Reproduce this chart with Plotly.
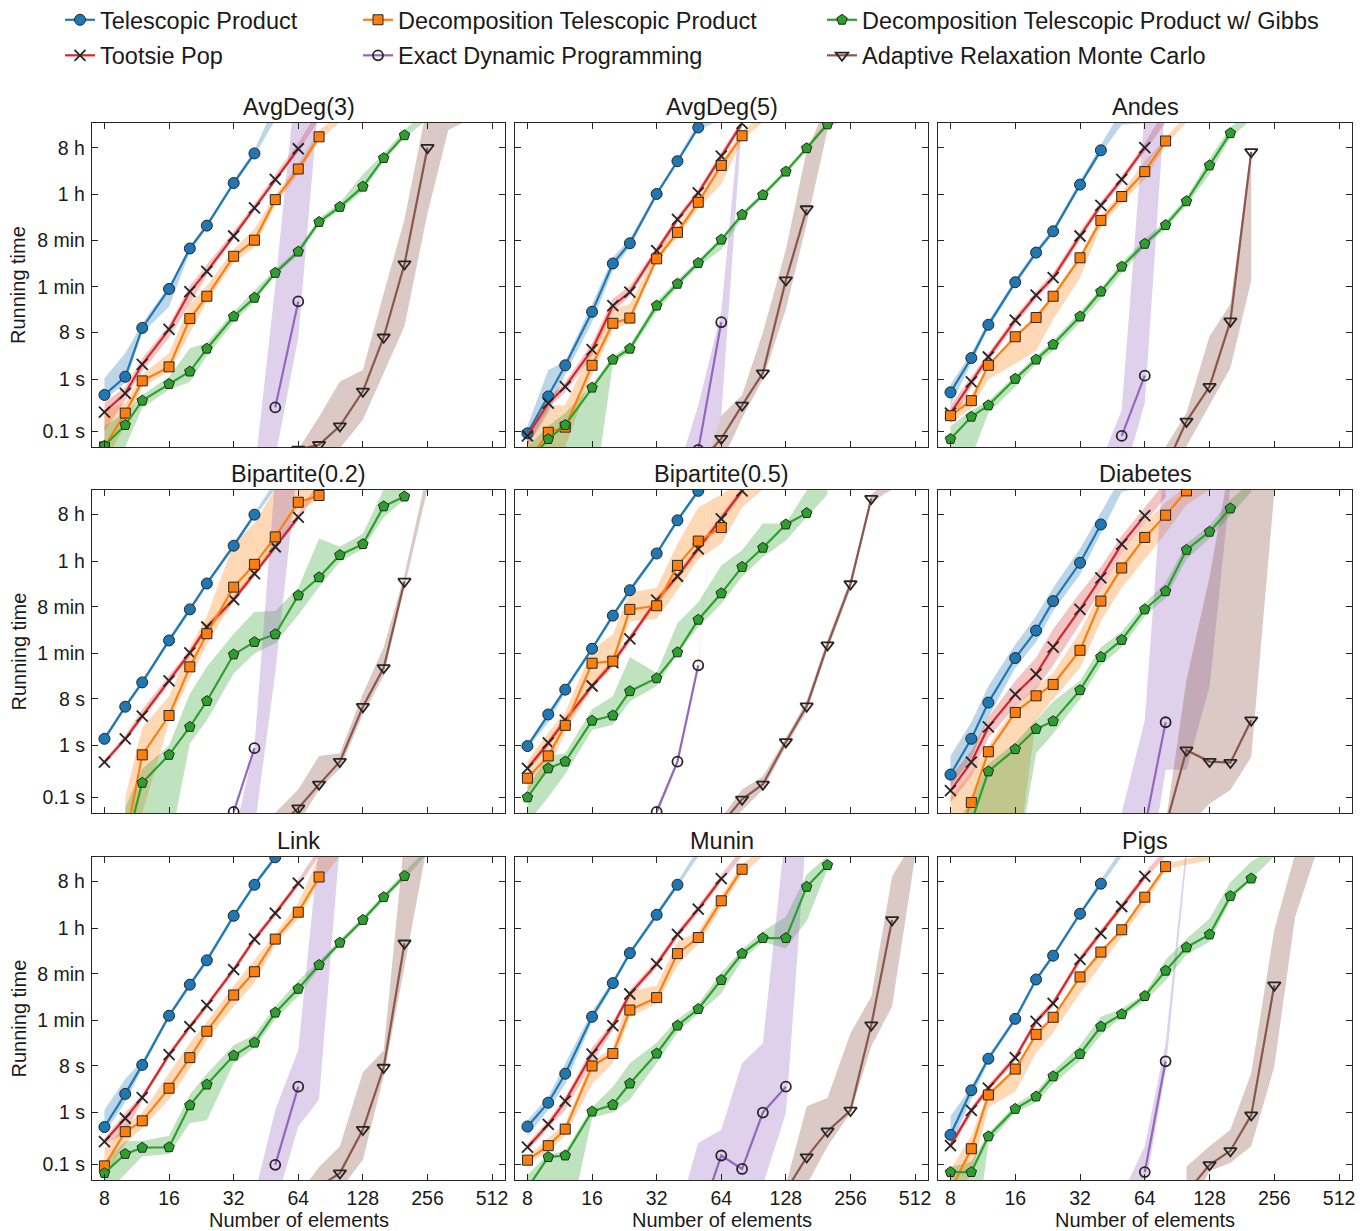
import plotly.graph_objects as go
import math

# ---------------- axis ticks ----------------
X_TICKS = [8, 16, 32, 64, 128, 256, 512]
Y_TICK_SECONDS = [0.1, 1, 8, 60, 480, 3600, 28800]
Y_TICK_LABELS = ["0.1 s", "1 s", "8 s", "1 min", "8 min", "1 h", "8 h"]

PANEL_TITLES = ["AvgDeg(3)", "AvgDeg(5)", "Andes", "Bipartite(0.2)", "Bipartite(0.5)",
                "Diabetes", "Link", "Munin", "Pigs"]

# ---------------- data: running time as log10(seconds), keyed by number of elements ----------------
# bands: {n: (low, high)} in log10(seconds)

# AvgDeg(3)
AVG3_TP = {8:-0.30,10:0.05,12:0.99,16:1.74,20:2.52,24:2.96,32:3.78,40:4.35}
AVG3_TP_B = {8:(-0.40,0.02),10:(-0.07,0.50),12:(0.89,1.08),16:(1.40,1.80),20:(2.45,2.57),24:(2.92,3.01),32:(3.73,3.83),40:(4.30,4.42),50:(5.0,5.3)}
AVG3_TT = {8:-0.63,10:-0.27,12:0.29,16:0.96,20:1.69,24:2.08,32:2.76,40:3.30,50:3.85,64:4.44}
AVG3_TT_B = {8:(-1.0,-0.45),10:(-0.40,-0.15),12:(0.15,0.40),16:(0.80,1.05),20:(1.45,1.80),24:(2.00,2.20),32:(2.70,2.85),40:(3.25,3.38),50:(3.80,3.95),64:(4.38,4.55),80:(5.0,5.2)}
AVG3_DTP = {8:-1.30,10:-0.65,12:-0.03,16:0.24,20:1.17,24:1.60,32:2.37,40:2.68,50:3.46,64:4.05,80:4.67}
AVG3_DTP_B = {8:(-1.6,-0.6),10:(-0.9,-0.45),12:(-0.15,0.10),16:(0.15,0.50),20:(0.90,1.45),24:(1.50,1.80),32:(2.25,2.50),40:(2.55,2.90),50:(3.35,3.55),64:(3.95,4.15),80:(4.60,4.80),100:(4.95,5.1)}
AVG3_G = {8:-1.28,10:-0.88,12:-0.41,16:-0.09,20:0.15,24:0.59,32:1.21,40:1.57,50:2.05,64:2.46,80:3.03,100:3.32,128:3.71,160:4.26,200:4.70}
AVG3_G_B = {8:(-1.8,-0.9),10:(-1.3,-0.65),12:(-0.55,-0.30),16:(-0.20,0.05),20:(-0.05,0.60),24:(0.45,0.70),32:(1.10,1.30),40:(1.50,1.70),50:(2.00,2.12),64:(2.40,2.52),80:(2.97,3.10),100:(3.26,3.40),128:(3.62,3.95),160:(4.20,4.35),200:(4.65,4.80),256:(5.0,5.2)}
AVG3_EDP = {50:-0.54,64:1.50}
AVG3_EDP_B = {40:(-3.0,-1.8),50:(-1.5,1.8),64:(0.8,6.2),80:(5.5,6.5)}
AVG3_AR = {64:-1.35,80:-1.26,100:-0.90,128:-0.23,160:0.81,200:2.22,256:4.46}
AVG3_AR_B = {64:(-2.0,-1.35),80:(-1.42,-0.72),100:(-1.33,-0.04),128:(-0.78,0.18),160:(0.12,1.66),200:(1.02,3.08),256:(3.2,5.3),320:(4.8,5.5),400:(5.0,5.5)}

# AvgDeg(5)
AVG5_TP = {8:-1.04,10:-0.33,12:0.27,16:1.30,20:2.23,24:2.62,32:3.57,40:4.20,50:4.85}
AVG5_TP_B = {8:(-1.3,-0.9),10:(-0.65,0.18),12:(0.10,0.35),16:(1.10,1.45),20:(2.10,2.35),24:(2.55,2.70),32:(3.52,3.62),40:(4.15,4.25),50:(4.80,4.95),64:(5.0,5.1)}
AVG5_TT = {8:-1.09,10:-0.46,12:-0.14,16:0.57,20:1.42,24:1.68,32:2.48,40:3.08,50:3.59,64:4.30,80:4.93}
AVG5_TT_B = {8:(-1.3,-1.0),10:(-0.55,-0.35),12:(-0.25,-0.05),16:(0.45,0.70),20:(1.30,1.55),24:(1.60,1.80),32:(2.40,2.55),40:(3.00,3.15),50:(3.52,3.66),64:(4.22,4.38),80:(4.88,5.0)}
AVG5_DTP = {8:-1.6,10:-1.02,12:-0.92,16:0.27,20:1.08,24:1.18,32:2.32,40:2.83,50:3.41,64:4.12,80:4.69}
AVG5_DTP_B = {8:(-2.0,-1.2),10:(-1.5,-0.5),12:(-1.3,-0.5),16:(0.10,0.60),20:(0.95,1.35),24:(1.10,1.45),32:(2.25,2.45),40:(2.75,2.95),50:(3.30,3.50),64:(3.75,4.20),80:(4.62,4.78),100:(4.95,5.1)}
AVG5_G = {8:-1.6,10:-1.15,12:-0.88,16:-0.16,20:0.38,24:0.59,32:1.42,40:1.84,50:2.24,64:2.69,80:3.17,100:3.55,128:4.00,160:4.45,200:4.91}
AVG5_G_B = {8:(-2.5,-1.3),10:(-2.5,-0.9),12:(-2.5,-0.65),16:(-2.5,-0.10),20:(0.30,0.45),24:(0.52,0.66),32:(1.30,1.50),40:(1.78,1.92),50:(2.17,2.30),64:(2.50,2.72),80:(3.10,3.22),100:(3.50,3.60),128:(3.95,4.05),160:(4.40,4.50),200:(4.88,4.98),256:(5.0,5.1)}
AVG5_EDP = {50:-1.36,64:1.10}
AVG5_EDP_B = {40:(-3.0,-1.8),50:(-2.0,-0.5),64:(-0.7,1.3),80:(5.0,5.5)}
AVG5_AR = {50:-1.64,64:-1.14,80:-0.50,100:0.12,128:1.91,160:3.28}
AVG5_AR_B = {50:(-2.2,-2.0),64:(-1.6,-0.7),80:(-0.75,-0.3),100:(0.0,0.9),128:(1.35,2.5),160:(3.0,4.4),200:(4.8,5.3),256:(5.3,5.5)}

# Andes
AND_TP = {8:-0.25,10:0.41,12:1.05,16:1.87,20:2.44,24:2.85,32:3.75,40:4.41}
AND_TP_B = {8:(-0.50,-0.10),10:(0.30,0.50),12:(0.98,1.12),16:(1.81,1.93),20:(2.38,2.50),24:(2.80,2.92),32:(3.70,3.82),40:(4.35,4.50),50:(4.90,5.2),64:(4.93,5.2)}
AND_TT = {8:-0.65,10:-0.05,12:0.43,16:1.14,20:1.62,24:1.96,32:2.76,40:3.35,50:3.85,64:4.46}
AND_TT_B = {8:(-0.85,-0.50),10:(-0.15,0.05),12:(0.35,0.52),16:(1.05,1.22),20:(1.55,1.70),24:(1.88,2.05),32:(2.68,2.85),40:(3.28,3.43),50:(3.78,3.92),64:(4.38,4.55),80:(4.95,5.2)}
AND_DTP = {8:-0.70,10:-0.41,12:0.27,16:0.82,20:1.19,24:1.60,32:2.34,40:3.06,50:3.52,64:4.00,80:4.59}
AND_DTP_B = {8:(-0.85,-0.55),10:(-0.55,-0.30),12:(0.0,0.30),16:(0.30,0.85),20:(0.55,1.25),24:(1.15,1.65),32:(1.95,2.40),40:(2.95,3.15),50:(3.40,3.60),64:(3.85,4.20),80:(4.50,4.65),100:(4.95,5.1)}
AND_G = {8:-1.15,10:-0.72,12:-0.50,16:0.01,20:0.38,24:0.67,32:1.21,40:1.69,50:2.17,64:2.61,80:2.97,100:3.43,128:4.12,160:4.74}
AND_G_B = {8:(-1.8,-0.9),10:(-1.5,-0.6),12:(-0.65,-0.42),16:(-0.15,0.08),20:(0.30,0.45),24:(0.55,0.75),32:(1.10,1.30),40:(1.55,1.75),50:(2.05,2.25),64:(2.55,2.70),80:(2.90,3.05),100:(3.35,3.50),128:(3.95,4.25),160:(4.65,4.85),200:(5.0,5.2)}
AND_EDP = {50:-1.09,64:0.07}
AND_EDP_B = {40:(-3.0,-1.6),50:(-2.0,-0.59),64:(-0.46,5.2),80:(5.5,6.0)}
AND_AR = {80:-1.69,100:-0.81,128:-0.14,160:1.12,200:4.38}
AND_AR_B = {80:(-2.0,-1.3),100:(-1.3,-0.65),128:(-0.5,0.83),160:(0.22,1.45),200:(1.9,4.45)}

# Bipartite(0.2)
BP2_TP = {8:0.13,10:0.75,12:1.22,16:2.03,20:2.63,24:3.13,32:3.86,40:4.46}
BP2_TP_B = {8:(0.08,0.18),10:(0.70,0.80),12:(1.17,1.27),16:(1.98,2.08),20:(2.58,2.68),24:(3.08,3.18),32:(3.81,3.91),40:(4.41,4.52),50:(4.95,5.1)}
BP2_TT = {8:-0.32,10:0.13,12:0.57,16:1.25,20:1.79,24:2.29,32:2.82,40:3.32,50:3.84,64:4.41}
BP2_TT_B = {8:(-0.37,-0.27),10:(0.08,0.20),12:(0.50,0.70),16:(1.18,1.35),20:(1.72,1.86),24:(2.22,2.36),32:(2.76,2.90),40:(3.26,3.40),50:(3.78,3.92),64:(4.35,4.50),80:(4.95,5.1)}
BP2_DTP = {10:-1.86,12:-0.18,16:0.58,20:1.52,24:2.16,32:3.06,40:3.50,50:4.03,64:4.70,80:4.83}
BP2_DTP_B = {10:(-2.5,-1.0),12:(-1.3,0.35),16:(0.45,0.95),20:(1.30,1.90),24:(1.95,2.50),32:(2.80,3.90),40:(3.25,4.30),50:(3.85,4.95),64:(4.55,5.1),80:(4.75,5.1)}
BP2_G = {10:-1.98,12:-0.72,16:-0.18,20:0.36,24:0.86,32:1.76,40:2.00,50:2.15,64:2.90,80:3.25,100:3.68,128:3.89,160:4.62,200:4.81}
BP2_G_B = {10:(-2.5,-1.2),12:(-2.5,-0.45),16:(-2.0,0.0),20:(0.04,1.0),24:(0.49,1.52),32:(1.39,2.16),40:(1.78,2.58),50:(1.97,2.60),64:(2.52,3.05),80:(3.06,4.0),100:(3.55,3.84),128:(3.80,4.09),160:(4.41,4.95),200:(4.75,5.1)}
BP2_EDP = {32:-1.28,40:-0.05}
BP2_EDP_B = {32:(-2.5,-1.8),40:(-1.6,0.0),50:(1.4,5.2),64:(5.5,5.8)}
BP2_AR = {50:-1.59,64:-1.21,80:-0.75,100:-0.31,128:0.75,160:1.50,200:3.17}
BP2_AR_B = {50:(-2.0,-1.3),64:(-1.5,-0.85),80:(-0.85,-0.2),100:(-0.45,-0.15),128:(0.6,1.0),160:(1.35,1.9),200:(3.05,3.3),256:(4.95,5.3)}

# Bipartite(0.5)
BP5_TP = {8:-0.01,10:0.60,12:1.08,16:1.87,20:2.51,24:3.00,32:3.71,40:4.35,50:4.92}
BP5_TP_B = {8:(-0.06,0.04),10:(0.45,0.65),12:(1.03,1.13),16:(1.82,1.92),20:(2.46,2.56),24:(2.95,3.05),32:(3.66,3.76),40:(4.30,4.40),50:(4.87,4.97)}
BP5_TT = {8:-0.44,10:0.05,12:0.49,16:1.15,20:1.60,24:2.06,32:2.81,40:3.27,50:3.80,64:4.38,80:4.92}
BP5_TT_B = {8:(-0.50,-0.38),10:(-0.02,0.12),12:(0.42,0.56),16:(1.08,1.22),20:(1.53,1.67),24:(1.99,2.13),32:(2.74,2.88),40:(3.20,3.34),50:(3.73,3.87),64:(4.31,4.45),80:(4.85,5.0)}
BP5_DTP = {8:-0.63,10:-0.20,12:0.39,16:1.59,20:1.63,24:2.63,32:2.70,40:3.48,50:3.95,64:4.21}
BP5_DTP_B = {8:(-0.9,-0.3),10:(-0.45,0.25),12:(0.25,0.65),16:(1.13,1.85),20:(1.50,2.15),24:(2.40,2.95),32:(2.45,3.05),40:(3.0,3.9),50:(3.6,4.6),64:(3.9,4.85),80:(4.6,5.1),100:(4.95,5.1)}
BP5_G = {8:-1.00,10:-0.44,12:-0.31,16:0.48,20:0.58,24:1.05,32:1.30,40:1.80,50:2.43,64:2.94,80:3.45,100:3.82,128:4.27,160:4.49}
BP5_G_B = {8:(-1.5,-0.8),10:(-1.0,-0.2),12:(-0.55,-0.15),16:(0.30,0.70),20:(0.40,0.95),24:(0.85,1.71),32:(1.15,1.40),40:(1.78,2.36),50:(2.29,2.77),64:(2.74,3.48),80:(3.26,3.77),100:(3.64,4.29),128:(3.96,4.29),160:(4.41,4.93),200:(4.85,5.2)}
BP5_EDP = {32:-1.28,40:-0.31,50:1.55}
BP5_EDP_B = {32:(-1.35,-1.2),40:(-0.36,-0.26),50:(1.52,1.58),64:(6.5,6.6)}
BP5_AR = {64:-1.52,80:-1.04,100:-0.75,128:0.07,160:0.76,200:1.94,256:3.12,320:4.77}
BP5_AR_B = {64:(-1.7,-1.4),80:(-1.25,-0.85),100:(-0.85,-0.6),128:(-0.02,0.15),160:(0.66,0.86),200:(1.85,2.05),256:(3.02,3.22),320:(4.7,4.85),400:(4.95,5.2)}

# Diabetes
DIA_TP = {8:-0.56,10:0.13,12:0.83,16:1.69,20:2.22,24:2.79,32:3.53,40:4.27}
DIA_TP_B = {8:(-0.8,-0.2),10:(-0.25,0.45),12:(0.55,1.15),16:(1.5,1.95),20:(2.0,2.5),24:(2.6,3.05),32:(3.3,3.8),40:(4.1,4.5),50:(4.9,5.2),64:(5.0,5.1)}
DIA_TT = {8:-0.87,10:-0.32,12:0.36,16:0.99,20:1.38,24:1.90,32:2.63,40:3.24,50:3.89,64:4.44}
DIA_TT_B = {8:(-1.1,-0.6),10:(-0.6,-0.1),12:(0.15,0.55),16:(0.75,1.25),20:(1.10,1.70),24:(1.55,2.25),32:(2.35,2.95),40:(3.00,3.45),50:(3.70,4.05),64:(4.30,4.60),80:(4.80,5.1)}
DIA_DTP = {8:-2.25,10:-1.10,12:-0.12,16:0.64,20:0.96,24:1.18,32:1.84,40:2.79,50:3.43,64:4.02,80:4.45,100:4.92}
DIA_DTP_B = {8:(-2.5,-1.0),10:(-1.6,-0.5),12:(-1.4,0.0),16:(-2.5,0.75),20:(0.5,1.15),24:(0.9,1.40),32:(1.5,2.2),40:(2.4,3.0),50:(3.05,3.7),64:(3.6,4.3),80:(4.1,4.7),100:(4.65,5.0),128:(4.95,5.2)}
DIA_G = {8:-2.5,10:-1.48,12:-0.50,16:-0.07,20:0.32,24:0.47,32:1.07,40:1.71,50:2.04,64:2.63,80:2.98,100:3.78,128:4.13,160:4.58}
DIA_G_B = {8:(-2.5,-1.8),10:(-2.5,-1.0),12:(-2.5,-0.35),16:(-2.5,0.05),20:(-0.15,0.50),24:(0.23,0.85),32:(0.9,1.25),40:(1.55,1.90),50:(1.9,2.2),64:(2.5,2.75),80:(2.85,3.15),100:(3.6,3.9),128:(4.0,4.25),160:(4.45,4.75),200:(4.9,5.1)}
DIA_EDP = {64:-1.58,80:0.45}
DIA_EDP_B = {50:(-2.0,-1.3),64:(-3.0,0.49),80:(-0.47,6.0),100:(-0.47,6.0),128:(1.14,6.0),160:(5.0,6.0)}
DIA_AR = {80:-1.56,100:-0.09,128:-0.31,160:-0.33,200:0.49}
DIA_AR_B = {80:(-2.0,-1.5),100:(-1.6,1.26),128:(-1.12,3.26),160:(-0.86,5.5),200:(-0.22,6.0),256:(4.9,6.0)}

# Link
LNK_TP = {8:-0.28,10:0.36,12:0.92,16:1.87,20:2.47,24:2.94,32:3.80,40:4.40,50:4.93}
LNK_TP_B = {8:(-0.40,0.05),10:(0.20,0.65),12:(0.85,1.0),16:(1.82,1.92),20:(2.42,2.52),24:(2.89,2.99),32:(3.75,3.85),40:(4.35,4.45),50:(4.88,4.98)}
LNK_TT = {8:-0.56,10:-0.11,12:0.29,16:1.12,20:1.66,24:2.07,32:2.76,40:3.35,50:3.85,64:4.43}
LNK_TT_B = {8:(-0.62,-0.50),10:(-0.40,0.0),12:(0.23,0.35),16:(1.06,1.18),20:(1.60,1.72),24:(2.01,2.13),32:(2.70,2.82),40:(3.29,3.41),50:(3.79,3.91),64:(4.37,4.50),80:(4.95,5.1)}
LNK_DTP = {8:-1.03,10:-0.37,12:-0.16,16:0.47,20:1.06,24:1.57,32:2.27,40:2.72,50:3.35,64:3.87,80:4.55}
LNK_DTP_B = {8:(-1.3,-0.7),10:(-0.6,-0.25),12:(-0.3,0.0),16:(0.25,0.75),20:(0.85,1.35),24:(1.40,1.75),32:(2.05,2.45),40:(2.50,2.95),50:(3.25,3.45),64:(3.75,4.05),80:(4.45,4.95),100:(4.95,5.1)}
LNK_G = {8:-1.17,10:-0.80,12:-0.68,16:-0.67,20:0.14,24:0.54,32:1.10,40:1.35,50:1.93,64:2.39,80:2.85,100:3.28,128:3.72,160:4.16,200:4.57}
LNK_G_B = {8:(-1.6,-0.95),10:(-1.2,-0.55),12:(-0.85,-0.55),16:(-0.8,-0.45),20:(-0.2,0.35),24:(-0.15,0.75),32:(0.95,1.30),40:(1.25,1.50),50:(1.80,2.05),64:(2.25,2.55),80:(2.78,2.92),100:(3.22,3.34),128:(3.67,3.78),160:(4.10,4.22),200:(4.50,4.65),256:(5.0,5.1)}
LNK_EDP = {50:-1.01,64:0.50}
LNK_EDP_B = {40:(-3.0,-1.6),50:(-1.8,0.05),64:(-0.27,1.21),80:(0.25,5.2),100:(5.2,5.5)}
LNK_AR = {80:-1.43,100:-1.17,128:-0.33,160:0.87,200:3.27}
LNK_AR_B = {64:(-2.0,-1.6),80:(-2.0,-1.05),100:(-1.5,-0.65),128:(-0.91,0.78),160:(0.70,1.2),200:(2.82,5.3),256:(5.2,5.5)}

# Munin
MUN_TP = {8:-0.27,10:0.19,12:0.75,16:1.85,20:2.50,24:3.08,32:3.82,40:4.40}
MUN_TP_B = {8:(-0.45,-0.15),10:(0.05,0.30),12:(0.55,0.95),16:(1.75,1.95),20:(2.45,2.56),24:(3.03,3.13),32:(3.77,3.88),40:(4.35,4.46),50:(4.95,5.1)}
MUN_TT = {8:-0.67,10:-0.23,12:0.22,16:1.13,20:1.68,24:2.29,32:2.87,40:3.44,50:3.93,64:4.52}
MUN_TT_B = {8:(-0.75,-0.60),10:(-0.30,-0.15),12:(0.05,0.30),16:(0.95,1.25),20:(1.60,1.76),24:(2.21,2.37),32:(2.80,2.94),40:(3.37,3.51),50:(3.86,4.00),64:(4.45,4.60),80:(4.95,5.1)}
MUN_DTP = {8:-0.92,10:-0.64,12:-0.32,16:0.90,20:1.14,24:1.98,32:2.22,40:3.07,50:3.38,64:4.09,80:4.70}
MUN_DTP_B = {8:(-1.0,-0.85),10:(-0.75,-0.5),12:(-0.45,-0.2),16:(0.55,1.0),20:(0.95,1.25),24:(1.85,2.35),32:(2.10,2.45),40:(2.85,3.30),50:(3.25,3.50),64:(3.95,4.20),80:(4.6,4.8),100:(4.95,5.1)}
MUN_G = {8:-1.46,10:-0.86,12:-0.83,16:0.02,20:0.15,24:0.56,32:1.14,40:1.68,50:2.00,64:2.56,80:3.07,100:3.37,128:3.37,160:4.36,200:4.78}
MUN_G_B = {8:(-2.0,-1.2),10:(-2.5,-0.8),12:(-2.5,-0.75),16:(-0.10,0.10),20:(0.0,0.50),24:(0.25,0.95),32:(0.95,1.35),40:(1.55,1.80),50:(1.90,2.10),64:(2.30,2.70),80:(2.95,3.15),100:(3.30,3.50),128:(3.17,3.78),160:(3.7,4.6),200:(4.70,4.95)}
MUN_EDP = {50:-2.13,64:-0.83,80:-1.09,100:0.00,128:0.50}
MUN_EDP_B = {40:(-3.0,-2.0),50:(-2.5,-0.59),64:(-2.0,-0.33),80:(-1.6,0.95),100:(-1.4,1.34),128:(-0.01,5.5),160:(5.5,6.0)}
MUN_AR = {128:-1.51,160:-0.86,200:-0.36,256:0.04,320:1.69,400:3.72}
MUN_AR_B = {128:(-2.0,-1.4),160:(-1.4,0.12),200:(-0.65,0.28),256:(-0.01,1.53),320:(1.28,2.24),400:(2.05,4.56),512:(4.95,5.3)}

# Pigs
PIG_TP = {8:-0.43,10:0.43,12:1.04,16:1.81,20:2.57,24:3.03,32:3.84,40:4.42}
PIG_TP_B = {8:(-0.65,-0.07),10:(0.25,0.50),12:(0.98,1.10),16:(1.76,1.86),20:(2.52,2.62),24:(2.98,3.08),32:(3.79,3.89),40:(4.37,4.48),50:(4.95,5.1)}
PIG_TT = {8:-0.64,10:0.04,12:0.47,16:1.06,20:1.76,24:2.11,32:2.96,40:3.46,50:3.98,64:4.56}
PIG_TT_B = {8:(-0.72,-0.56),10:(-0.03,0.11),12:(0.40,0.54),16:(0.99,1.13),20:(1.69,1.83),24:(2.04,2.18),32:(2.89,3.03),40:(3.39,3.53),50:(3.91,4.05),64:(4.49,4.63),80:(4.95,5.1)}
PIG_DTP = {8:-1.5,10:-0.70,12:0.34,16:0.84,20:1.51,24:1.84,32:2.62,40:3.10,50:3.53,64:4.16,80:4.75}
PIG_DTP_B = {8:(-1.7,-1.1),10:(-1.2,-0.45),12:(0.10,0.40),16:(0.40,0.85),20:(1.15,1.55),24:(1.55,1.88),32:(2.30,2.65),40:(2.85,3.15),50:(3.40,3.55),64:(4.0,4.2),80:(4.70,4.80),100:(4.78,4.90),128:(4.88,4.98)}
PIG_G = {8:-1.15,10:-1.15,12:-0.46,16:0.07,20:0.31,24:0.70,32:1.13,40:1.66,50:1.90,64:2.25,80:2.74,100:3.19,128:3.44,160:4.18,200:4.52}
PIG_G_B = {8:(-1.8,-1.05),10:(-3.0,-0.95),12:(-0.60,-0.40),16:(0.0,0.15),20:(0.20,0.40),24:(0.55,0.80),32:(1.0,1.30),40:(1.50,1.85),50:(1.85,2.0),64:(2.15,2.30),80:(2.55,2.95),100:(3.05,3.35),128:(3.30,3.75),160:(4.10,4.45),200:(4.50,4.85),256:(4.95,5.1)}
PIG_EDP = {64:-1.15,80:0.99}
PIG_EDP_B = {50:(-2.5,-1.6),64:(-1.5,-0.65),80:(0.8,1.34),100:(4.9,5.2)}
PIG_AR = {100:-1.55,128:-1.01,160:-0.74,200:-0.05,256:2.46}
PIG_AR_B = {100:(-2.0,-1.04),128:(-1.13,-0.65),160:(-0.97,-0.33),200:(-0.65,0.76),256:(0.89,3.53),320:(3.78,5.0),400:(5.0,5.1)}

PANELS = [
    (AVG3_TP, AVG3_TP_B, AVG3_TT, AVG3_TT_B, AVG3_DTP, AVG3_DTP_B, AVG3_G, AVG3_G_B, AVG3_EDP, AVG3_EDP_B, AVG3_AR, AVG3_AR_B),
    (AVG5_TP, AVG5_TP_B, AVG5_TT, AVG5_TT_B, AVG5_DTP, AVG5_DTP_B, AVG5_G, AVG5_G_B, AVG5_EDP, AVG5_EDP_B, AVG5_AR, AVG5_AR_B),
    (AND_TP, AND_TP_B, AND_TT, AND_TT_B, AND_DTP, AND_DTP_B, AND_G, AND_G_B, AND_EDP, AND_EDP_B, AND_AR, AND_AR_B),
    (BP2_TP, BP2_TP_B, BP2_TT, BP2_TT_B, BP2_DTP, BP2_DTP_B, BP2_G, BP2_G_B, BP2_EDP, BP2_EDP_B, BP2_AR, BP2_AR_B),
    (BP5_TP, BP5_TP_B, BP5_TT, BP5_TT_B, BP5_DTP, BP5_DTP_B, BP5_G, BP5_G_B, BP5_EDP, BP5_EDP_B, BP5_AR, BP5_AR_B),
    (DIA_TP, DIA_TP_B, DIA_TT, DIA_TT_B, DIA_DTP, DIA_DTP_B, DIA_G, DIA_G_B, DIA_EDP, DIA_EDP_B, DIA_AR, DIA_AR_B),
    (LNK_TP, LNK_TP_B, LNK_TT, LNK_TT_B, LNK_DTP, LNK_DTP_B, LNK_G, LNK_G_B, LNK_EDP, LNK_EDP_B, LNK_AR, LNK_AR_B),
    (MUN_TP, MUN_TP_B, MUN_TT, MUN_TT_B, MUN_DTP, MUN_DTP_B, MUN_G, MUN_G_B, MUN_EDP, MUN_EDP_B, MUN_AR, MUN_AR_B),
    (PIG_TP, PIG_TP_B, PIG_TT, PIG_TT_B, PIG_DTP, PIG_DTP_B, PIG_G, PIG_G_B, PIG_EDP, PIG_EDP_B, PIG_AR, PIG_AR_B),
]

# ---------------- styles ----------------
EDGE = "#262626"
SERIES = [
    # name, line color, band rgba, marker dict, legend id
    ("Telescopic Product", "#1f77b4", "rgba(31,119,180,0.30)",
     dict(symbol="circle", size=11, color="#1f77b4", line=dict(color=EDGE, width=1)), "legend"),
    ("Tootsie Pop", "#d62728", "rgba(214,39,40,0.28)",
     dict(symbol="x-thin", size=11, color=EDGE, line=dict(color=EDGE, width=1.8)), "legend"),
    ("Decomposition Telescopic Product", "#ff7f0e", "rgba(255,127,14,0.30)",
     dict(symbol="square", size=10, color="#ff7f0e", line=dict(color=EDGE, width=1)), "legend2"),
    ("Decomposition Telescopic Product w/ Gibbs", "#2ca02c", "rgba(44,160,44,0.30)",
     dict(symbol="pentagon", size=11, color="#2ca02c", line=dict(color=EDGE, width=1)), "legend3"),
    ("Exact Dynamic Programming", "#9467bd", "rgba(148,103,189,0.30)",
     dict(symbol="circle-open", size=10, color=EDGE, line=dict(color=EDGE, width=1.8)), "legend2"),
    ("Adaptive Relaxation Monte Carlo", "#8c564b", "rgba(140,86,75,0.32)",
     dict(symbol="triangle-down-open", size=11, color=EDGE, line=dict(color=EDGE, width=1.8)), "legend3"),
]
LEGEND_ORDER = [0, 1, 2, 4, 3, 5]

FONT = "Liberation Sans, Arial, Helvetica, sans-serif"
W, H = 1366, 1231
ML, MR, MT, MB = 92, 14, 123, 51
PW, PH = W - ML - MR, H - MT - MB
COLS = [(92, 505), (515, 928), (938, 1352)]
ROWS = [(123, 447), (490, 813), (857, 1180)]
X_RANGE = [math.log10(7.0), math.log10(588)]
Y_RANGE = [-1.303, 4.936]

fig = go.Figure()
layout = {}
annotations = []

def sec(v):
    return 10 ** v

for p in range(9):
    r, c = divmod(p, 3)
    ax = "" if p == 0 else str(p + 1)
    xref, yref = "x" + ax, "y" + ax
    data = PANELS[p]
    # bands first
    for s in range(6):
        band = data[2 * s + 1]
        xs = sorted(band)
        lo = [sec(band[k][0]) for k in xs]
        hi = [sec(band[k][1]) for k in xs]
        fig.add_trace(go.Scatter(
            x=xs + xs[::-1], y=hi + lo[::-1], fill="toself", mode="lines",
            line=dict(width=0), fillcolor=SERIES[s][2], hoverinfo="skip",
            showlegend=False, xaxis=xref, yaxis=yref))
    for s in LEGEND_ORDER:
        name, lc, _, mk, leg = SERIES[s]
        vals = data[2 * s]
        xs = sorted(vals)
        fig.add_trace(go.Scatter(
            x=xs, y=[sec(vals[k]) for k in xs], mode="lines+markers", name=name,
            line=dict(color=lc, width=2.2), marker=mk,
            showlegend=(p == 0), legend=leg, legendgroup=name,
            xaxis=xref, yaxis=yref))
    c0, c1 = COLS[c]
    r0, r1 = ROWS[r]
    xd = [(c0 - ML) / PW, (c1 - ML) / PW]
    yd = [(H - MB - r1) / PH, (H - MB - r0) / PH]
    common = dict(showgrid=False, zeroline=False, showline=True, mirror="ticks",
                  linecolor=EDGE, linewidth=1.4, ticks="inside", ticklen=6,
                  tickwidth=1.2, tickcolor=EDGE,
                  tickfont=dict(family=FONT, size=19.5, color="#1a1a1a"))
    layout["xaxis" + ax] = dict(common, type="log", range=X_RANGE, domain=xd,
                                anchor=yref, tickmode="array", tickvals=X_TICKS,
                                ticktext=[str(v) for v in X_TICKS],
                                showticklabels=(r == 2))
    layout["yaxis" + ax] = dict(common, type="log", range=Y_RANGE, domain=yd,
                                anchor=xref, tickmode="array", tickvals=Y_TICK_SECONDS,
                                ticktext=Y_TICK_LABELS, showticklabels=(c == 0),
                                ticklabelstandoff=2)
    annotations.append(dict(text=PANEL_TITLES[p], xref="paper", yref="paper",
                            x=(xd[0] + xd[1]) / 2, y=yd[1], xanchor="center",
                            yanchor="bottom", yshift=1, showarrow=False,
                            font=dict(family=FONT, size=23.5, color="#1a1a1a")))
    if c == 0:
        annotations.append(dict(text="Running time", xref="paper", yref="paper",
                                x=(18 - ML) / PW, y=(yd[0] + yd[1]) / 2, textangle=-90,
                                xanchor="center", yanchor="middle", showarrow=False,
                                font=dict(family=FONT, size=20, color="#1a1a1a")))
    if r == 2:
        annotations.append(dict(text="Number of elements", xref="paper", yref="paper",
                                x=(xd[0] + xd[1]) / 2, y=(H - MB - 1220) / PH,
                                xanchor="center", yanchor="middle", showarrow=False,
                                font=dict(family=FONT, size=20, color="#1a1a1a")))

def legend_box(px_left):
    return dict(x=(px_left - ML) / PW, y=(H - MB + 2) / PH, xanchor="left", yanchor="top",
                orientation="v", bgcolor="rgba(0,0,0,0)", borderwidth=0,
                tracegroupgap=2, itemwidth=30,
                font=dict(family=FONT, size=23.5, color="#1a1a1a"))

fig.update_layout(
    width=W, height=H, margin=dict(l=ML, r=MR, t=MT, b=MB, autoexpand=False),
    paper_bgcolor="white", plot_bgcolor="white",
    font=dict(family=FONT, color="#1a1a1a"),
    legend=legend_box(60), legend2=legend_box(358), legend3=legend_box(822),
    annotations=annotations, **layout)

fig.write_html("out.html", config={"displayModeBar": False},
               post_script="document.body.style.margin='0px';document.body.style.padding='0px';")
